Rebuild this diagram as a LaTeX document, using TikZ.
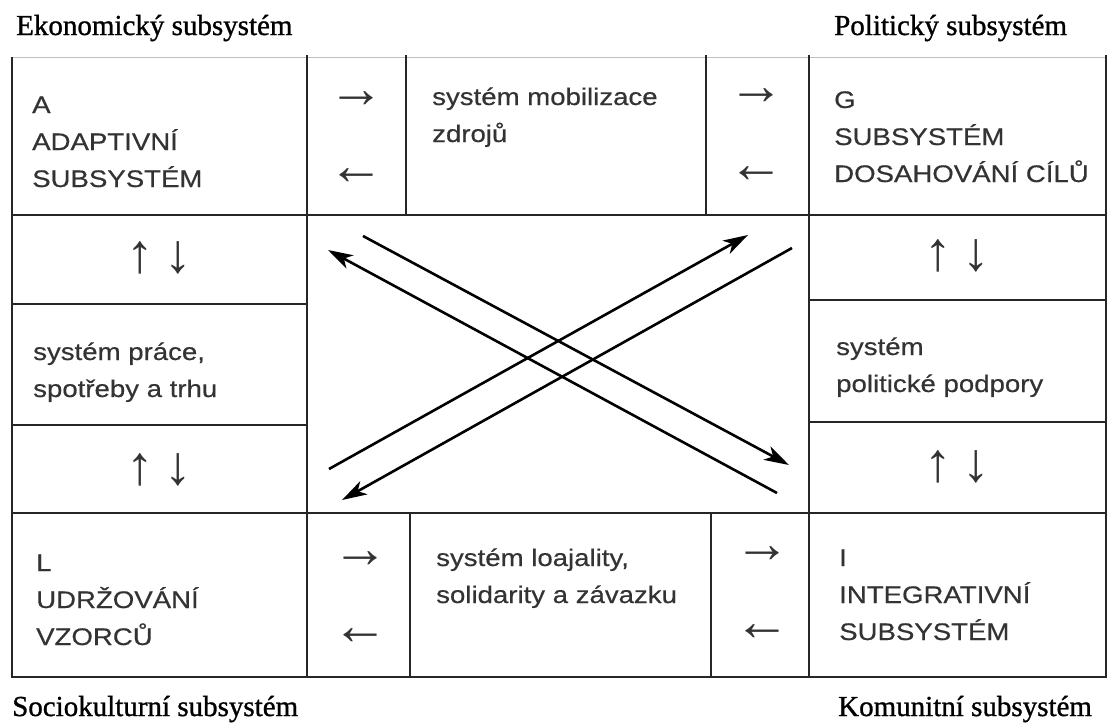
\documentclass[tikz,border=0pt]{standalone}
\usepackage{fontspec}
\setmainfont{Liberation Serif}
\newfontfamily\titlefont[FakeBold=1]{Liberation Serif}
\newfontfamily\cellfont[FakeStretch=1.15,FakeBold=0.5]{Liberation Sans}
\usetikzlibrary{arrows.meta}

\begin{document}
\begin{tikzpicture}[x=1pt,y=-1pt,
  rule/.style={line width=1.7pt,black!85},
  diag/.style={line width=2.6pt,-{Stealth[length=25pt,width=15pt,inset=7pt]}},
  title/.style={anchor=base west,inner sep=0pt,font=\titlefont\fontsize{29}{29}\selectfont},
  cell/.style={anchor=base west,inner sep=0pt,align=left,text=black!80,font=\cellfont\fontsize{24}{37}\selectfont},
  harr/.style={inner sep=0pt,text=black!80,font=\fontsize{56}{56}\selectfont},
  varr/.style={inner sep=0pt,text=black!80,font=\fontsize{55}{55}\selectfont}]
\useasboundingbox (0,0) rectangle (1109,723);
% table
\draw [gray!50,line width=1pt] (12,57) -- (1106,57);
\draw [rule] (12,57) -- (12,677) -- (1106,677) -- (1106,55);
\draw [rule] (12,215) -- (1106,215);
\draw [rule] (12,513) -- (1106,513);
\draw [rule] (307,55) -- (307,677);
\draw [rule] (809,55) -- (809,677);
\draw [rule] (406,55) -- (406,215);
\draw [rule] (706,55) -- (706,215);
\draw [rule] (410,513) -- (410,677);
\draw [rule] (711,513) -- (711,677);
\draw [rule] (12,304) -- (307,304);
\draw [rule] (12,425) -- (307,425);
\draw [rule] (809,300) -- (1106,300);
\draw [rule] (809,422) -- (1106,422);
% subsystems (base = last line)
\node (ekon) [title] at (16,35) {Ekonomický subsystém};
\node (polit) [title] at (834,35) {Politický subsystém};
\node (socio) [title] at (12,716) {Sociokulturní subsystém};
\node (komun) [title] at (838,716) {Komunitní subsystém};
\node (adapt) [cell] at (32,187) {A\\ADAPTIVNÍ\\SUBSYSTÉM};
\node (mobil) [cell] at (432,142) {systém mobilizace\\zdrojů};
\node (cile) [cell] at (834,182) {G\\SUBSYSTÉM\\DOSAHOVÁNÍ CÍLŮ};
\node (prace) [cell] at (33,397) {systém práce,\\spotřeby a trhu};
\node (podpora) [cell] at (836,392) {systém\\politické podpory};
\node (vzorce) [cell] at (36,645) {L\\UDRŽOVÁNÍ\\VZORCŮ};
\node (loajal) [cell] at (436,603) {systém loajality,\\solidarity a závazku};
\node (integr) [cell] at (839,640) {I\\INTEGRATIVNÍ\\SUBSYSTÉM};
% exchanges
\node (r_1) [harr] at (356,100) {→};
\node (l_1) [harr] at (356,177) {←};
\node (r_2) [harr] at (756,97) {→};
\node (l_2) [harr] at (756,175) {←};
\node (r_3) [harr] at (360,560) {→};
\node (l_3) [harr] at (360,637) {←};
\node (r_4) [harr] at (762,555) {→};
\node (l_4) [harr] at (762,633) {←};
\node (ud_1) [varr] at (159,258) {↑\hspace{11pt}↓};
\node (ud_2) [varr] at (159,470) {↑\hspace{11pt}↓};
\node (ud_3) [varr] at (957,256) {↑\hspace{11pt}↓};
\node (ud_4) [varr] at (957,467) {↑\hspace{11pt}↓};
% cross
\coordinate (dl_1) at (329,469);
\coordinate (ur_1) at (748,235);
\coordinate (ur_2) at (792,248);
\coordinate (dl_2) at (342,500);
\coordinate (ul_1) at (363,236);
\coordinate (dr_1) at (789,465);
\coordinate (dr_2) at (777,493);
\coordinate (ul_2) at (328,250);
\draw [diag] (dl_1) -- (ur_1);
\draw [diag] (ur_2) -- (dl_2);
\draw [diag] (ul_1) -- (dr_1);
\draw [diag] (dr_2) -- (ul_2);
\end{tikzpicture}
\end{document}
